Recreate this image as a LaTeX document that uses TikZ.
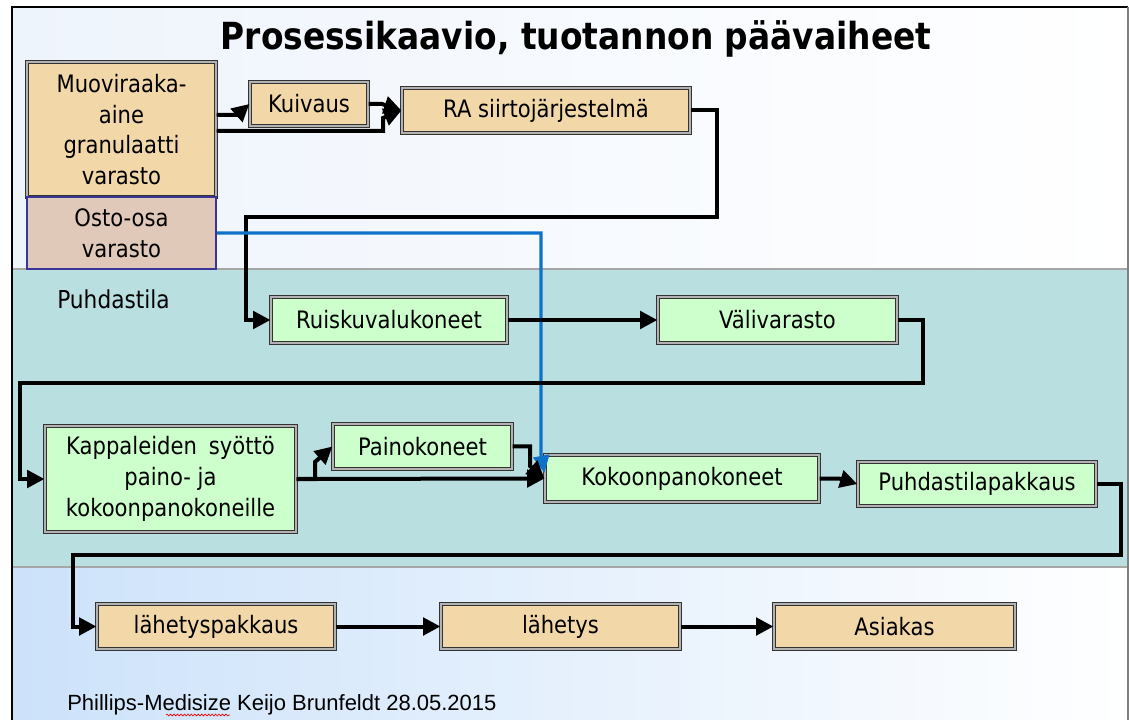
\documentclass[tikz,border=0pt]{standalone}
\usepackage{fontspec}
\setmainfont{DejaVu Sans}[FakeStretch=0.88]
\newfontfamily\footfont{Liberation Sans}
\usetikzlibrary{arrows.meta}
\usetikzlibrary{positioning}
\usetikzlibrary{decorations.pathmorphing}
\definecolor{ptan}{HTML}{F2D8A8}
\definecolor{posto}{HTML}{E0C9B9}
\definecolor{pnavy}{HTML}{3A3596}
\definecolor{pgreen}{HTML}{CCFFCC}
\definecolor{pteal}{HTML}{BADFE1}
\definecolor{pblue}{HTML}{0F72C8}
\definecolor{psky}{HTML}{CCE2FA}
\definecolor{pmist}{HTML}{EEF4FC}

\tikzset{
  box/.style={draw=black!80, double=black!30, double distance=0.9pt, line width=0.9pt,
    align=center, inner sep=0pt, font=\fontsize{18}{23}\selectfont},
  raw/.style={box, fill=ptan},
  clean/.style={box, fill=pgreen},
  flow/.style={line width=3pt, -{Triangle[length=13pt,width=13pt]}},
  partflow/.style={pblue, line width=2.3pt, -{Triangle[length=13pt,width=12pt]}}
}

\begin{document}
\begin{tikzpicture}[x=0.75pt, y=-0.75pt]
    \useasboundingbox (0,0) rectangle (1129,720);
    % taustat
    \fill[white] (0,0) rectangle (1129,720);
    \shade[left color=pmist, right color=white] (12,7) rectangle (1128,269);
    \fill[pteal] (12,269) rectangle (1128,567);
    \shade[left color=psky, right color=white] (12,567) rectangle (1128,720);
    \draw[gray!70, line width=1pt] (12,269) -- (1128,269) (12,567) -- (1128,567);
    \draw[line width=1.5pt] (12,720) -- (12,7) -- (1128,7);
    \draw[gray, line width=1pt] (1128,7) -- (1128,720);

    \node[anchor=base, font=\bfseries\fontsize{28}{33}\selectfont] (title) at (576,50) {Prosessikaavio, tuotannon päävaiheet};
    \node[anchor=base west, inner sep=0pt, font=\fontsize{18.5}{23}\selectfont] (puhdastila) at (57,309) {Puhdastila};

    % varastot
    \node[raw, minimum width=141.75pt, minimum height=101.25pt] (muovi) at (121.5,129.5) {Muoviraaka-\\aine\\granulaatti\\varasto};
    \node[draw=pnavy, line width=1.5pt, fill=posto, align=center, inner sep=0pt,
      font=\fontsize{18}{23}\selectfont, minimum width=141.75pt, minimum height=54pt] (osto) at (121.5,233) {Osto-osa\\varasto};
    \node[raw, minimum width=88.5pt, minimum height=33pt] (kuivaus) at (309,104) {Kuivaus};
    \node[raw, minimum width=216pt, minimum height=33.75pt] (ra) at (546,110.5) {RA siirtojärjestelmä};

    % puhdastila
    \node[clean, minimum width=177pt, minimum height=34.5pt] (ruisku) at (389,320) {Ruiskuvalukoneet};
    \node[clean, minimum width=179.25pt, minimum height=34.5pt] (vali) at (777.5,320) {Välivarasto};
    \node[clean, minimum width=188.25pt, minimum height=79.5pt] (kappale) at (170.5,479) {Kappaleiden\enspace syöttö\\paino- ja\\kokoonpanokoneille};
    \node[clean, minimum width=134.25pt, minimum height=33.75pt] (paino) at (422.5,446.5) {Painokoneet};
    \node[clean, minimum width=205.5pt, minimum height=35.25pt] (kokoon) at (682,478.5) {Kokoonpanokoneet};
    \node[clean, minimum width=178.5pt, minimum height=33pt] (puhdaspak) at (977,484) {Puhdastilapakkaus};

    % lähetys
    \node[raw, minimum width=178.5pt, minimum height=33.75pt] (lahpak) at (216,626.5) {lähetyspakkaus};
    \node[raw, minimum width=179.25pt, minimum height=33.75pt] (lahetys) at (560.5,626.5) {lähetys};
    \node[raw, minimum width=180.75pt, minimum height=33.75pt] (asiakas) at (894.5,626.5) {Asiakas};

    \node[anchor=base west, inner sep=0pt, font=\footfont\fontsize{16.5}{19}\selectfont] (tekija) at (67,710) {Phillips-Medisize Keijo Brunfeldt 28.05.2015};
    \draw[red, line width=0.5pt, decorate, decoration={snake, amplitude=0.7pt, segment length=2.6pt}] (166,715) -- (230,715);

    % virtaukset
    \draw[flow] (muovi.east |- 0,115) -- (237,115) -- (kuivaus.west);
    \draw[flow] (muovi.east |- 0,131) -- (383,131) -- (383,118) -- (ra.west);
    \draw[flow] (kuivaus.east) -- (382,104) -- (ra.west);
    \draw[flow] (ra.east) -| (717,217) -| (246,320) -- (ruisku.west);
    \draw[partflow] (osto.east) -| (541,455) -- (kokoon.north west |- 0,473);
    \draw[flow] (ruisku.east) -- (vali.west);
    \draw[flow] (vali.east) -| (923,383) -| (20,479) -- (kappale.west);
    \draw[flow] (kappale.east) -- (315,479) -- (315,462) -- (paino.west);
    \draw[flow] (kappale.east) -- (kokoon.west);
    \draw[flow] (paino.east) -| (530,466) -- (kokoon.west);
    \draw[flow] (kokoon.east) -- (839,478.5) -- (puhdaspak.west);
    \draw[flow] (puhdaspak.east) -| (1121,555) -| (73,626.5) -- (lahpak.west);
    \draw[flow] (lahpak.east) -- (lahetys.west);
    \draw[flow] (lahetys.east) -- (asiakas.west);
  \end{tikzpicture}
\end{document}
